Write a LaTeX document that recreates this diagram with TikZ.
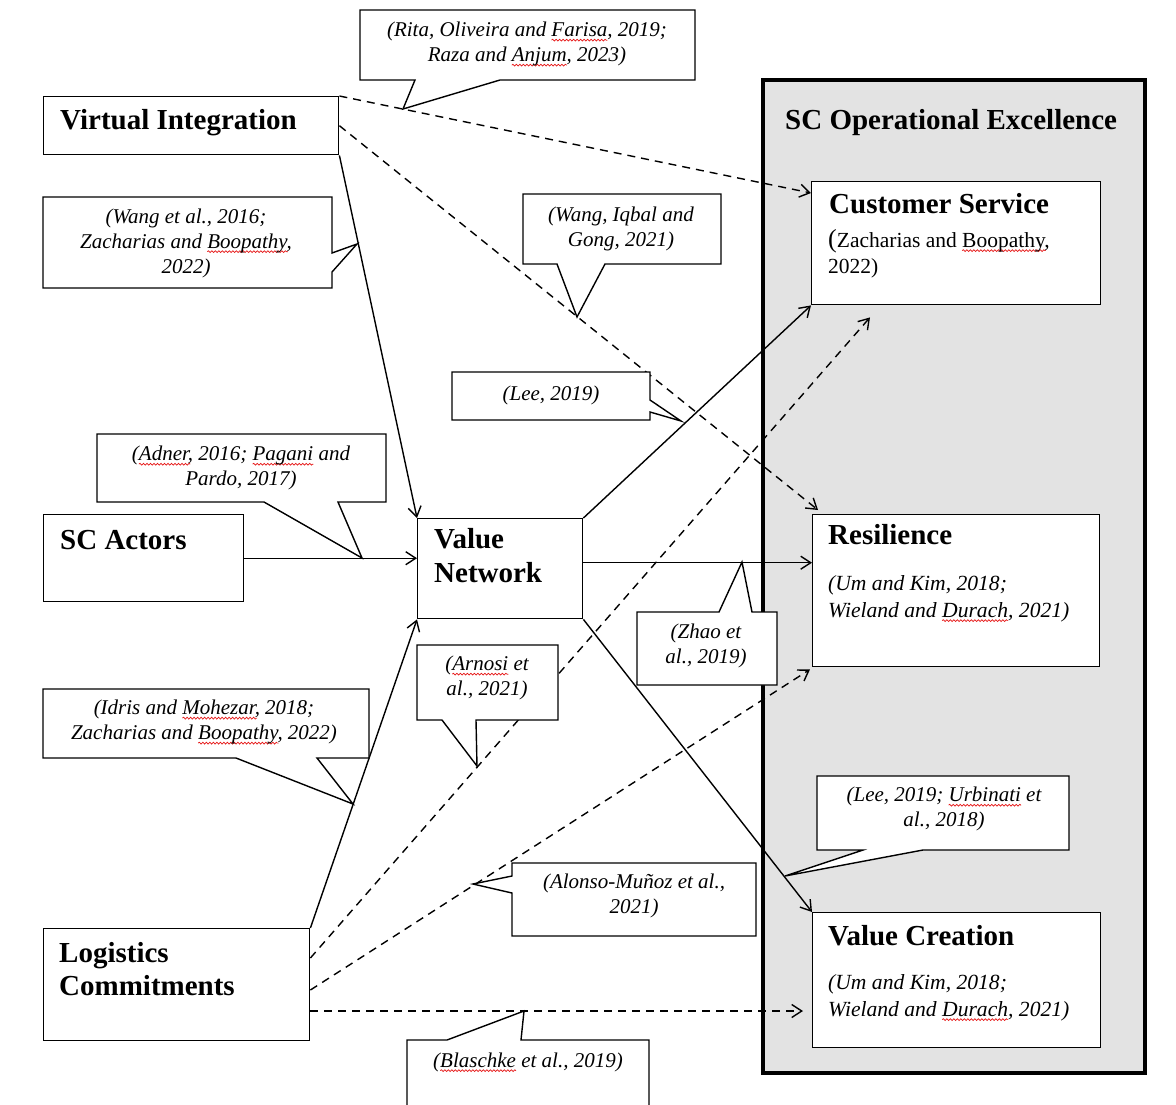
\documentclass[tikz,border=0pt]{standalone}
\usepackage{fontspec}
\setmainfont{Liberation Serif}
\usetikzlibrary{arrows.meta,calc,decorations.pathmorphing}

\definecolor{panelgrey}{RGB}{227,227,227}
\definecolor{squiggle}{RGB}{230,20,20}

% red wavy underline used under flagged words
\newlength\sqlen
\newcommand\sqw[1]{\settowidth\sqlen{#1}\rlap{\tikz[overlay]\draw[squiggle, line width=0.7pt, decorate, decoration={snake, amplitude=0.9pt, segment length=3.5pt}] (0pt,-3.6pt) -- (\sqlen,-3.6pt);}#1}

\begin{document}
\begin{tikzpicture}[x=1pt,y=-1pt,
  box/.style={draw=black, line width=1.4pt, fill=white, inner sep=0pt, anchor=north west},
  panelbox/.style={draw=black, line width=3.5pt, fill=panelgrey, inner sep=0pt, anchor=north west},
  ttl/.style={font=\fontsize{29}{34}\selectfont\bfseries, inner sep=0pt, anchor=base west},
  cite/.style={font=\fontsize{21}{25}\selectfont\itshape, inner sep=0pt, align=center},
  citeline/.style={font=\fontsize{21.6}{25}\selectfont\itshape, inner sep=0pt, anchor=base west},
  plainline/.style={font=\fontsize{21.5}{25}\selectfont, inner sep=0pt, anchor=base west},
  callout/.style={draw=black, line width=1.4pt, fill=white, line join=miter},
  conn/.style={line width=1.4pt, -{Straight Barb[length=10pt,width=13pt]}},
  dconn/.style={conn, dash pattern=on 8pt off 6pt},
]
\useasboundingbox (0,0) rectangle (1176,1104);

% ---------- outcome panel ----------
\node[panelbox, minimum width=382pt, minimum height=993pt] (panel) at (761,78) {};
\node[ttl] (paneltitle) at (785,129) {SC Operational Excellence};

% ---------- construct boxes ----------
\node[box, minimum width=295pt, minimum height=58pt]  (vi)  at (43,96)   {};
\node[box, minimum width=200pt, minimum height=87pt]  (act) at (43,514)  {};
\node[box, minimum width=165pt, minimum height=100pt] (vn)  at (417,518) {};
\node[box, minimum width=266pt, minimum height=112pt] (log) at (43,928)  {};
\node[box, minimum width=289pt, minimum height=123pt] (cs)  at (811,181) {};
\node[box, minimum width=287pt, minimum height=152pt] (res) at (812,514) {};
\node[box, minimum width=288pt, minimum height=135pt] (vc)  at (812,912) {};

% ---------- connectors ----------
% solid paths
\draw[conn] (vi.south east) -- (vn.north west);
\draw[conn] (act.east) -- (act.east -| vn.west);
\draw[conn] (log.north east) -- (vn.south west);
\draw[conn] (vn.north east) -- (cs.south west);
\coordinate (vnr) at ($(vn.east)+(0,-6)$);
\draw[conn] (vnr) -- (vnr -| res.west);
\draw[conn] (vn.south east) -- (vc.north west);
% dashed paths
\draw[dconn] (vi.north east) -- ($(cs.north west)+(0,12)$);
\draw[dconn] (vi.east) -- ($(res.north west)+(6,-4)$);
\draw[dconn] ($(log.north east)+(0,30)$) -- ($(cs.south west)+(59,12)$);
\draw[dconn] ($(log.north east)+(0,62)$) -- ($(res.south west)+(-2,2)$);
\coordinate (lgv) at ($(log.north east)+(0,83)$);
\draw[dconn, shorten >=9pt] (lgv) -- (lgv -| vc.west);

% ---------- citation callouts ----------
\draw[callout] (360,10) -- (695,10) -- (695,80) -- (500,80) -- (403,109) -- (415,80) -- (360,80) -- cycle;
\draw[callout] (43,197) -- (332,197) -- (332,253) -- (357,244) -- (332,272) -- (332,288) -- (43,288) -- cycle;
\draw[callout] (523,194) -- (721,194) -- (721,264) -- (605,264) -- (577,317) -- (557,264) -- (523,264) -- cycle;
\draw[callout] (452,372) -- (650,372) -- (650,400) -- (681,421) -- (650,412) -- (650,420) -- (452,420) -- cycle;
\draw[callout] (97,434) -- (386,434) -- (386,502) -- (338,502) -- (362,558) -- (264,502) -- (97,502) -- cycle;
\draw[callout] (637,612) -- (719,612) -- (742,562) -- (752,612) -- (777,612) -- (777,685) -- (637,685) -- cycle;
\draw[callout] (417,645) -- (558,645) -- (558,720) -- (476,720) -- (477,766) -- (442,720) -- (417,720) -- cycle;
\draw[callout] (43,689) -- (369,689) -- (369,758) -- (317,758) -- (353,804) -- (236,758) -- (43,758) -- cycle;
\draw[callout] (512,863) -- (756,863) -- (756,936) -- (512,936) -- (512,893) -- (473,884) -- (512,876) -- cycle;
\draw[callout] (817,776) -- (1069,776) -- (1069,850) -- (923,850) -- (785,876) -- (863,850) -- (817,850) -- cycle;
\draw[callout] (407,1110) -- (407,1040) -- (447,1040) -- (524,1011) -- (521,1040) -- (649,1040) -- (649,1110);

% ---------- texts ----------
\node[ttl] (vit)  at (60,129)  {Virtual Integration};
\node[ttl] (actt) at (60,549)  {SC Actors};
\node[ttl] (vnt1) at (434,548) {Value};
\node[ttl] (vnt2) at (434,582) {Network};
\node[ttl] (lgt1) at (59,962)  {Logistics};
\node[ttl] (lgt2) at (59,995)  {Commitments};
\node[ttl] (cst)  at (829,213) {Customer Service};
\node[ttl] (rest) at (828,544) {Resilience};
\node[ttl] (vct)  at (828,945) {Value Creation};

\node[plainline] (csc1) at (828,247) {{\fontsize{26}{26}\selectfont(}Zacharias and \sqw{Boopathy},};
\node[plainline] (csc2) at (828,273) {2022)};
\node[citeline] (resc1) at (828,590)  {(Um and Kim, 2018;};
\node[citeline] (resc2) at (828,617)  {Wieland and \sqw{Durach}, 2021)};
\node[citeline] (vcc1)  at (828,989)  {(Um and Kim, 2018;};
\node[citeline] (vcc2)  at (828,1016) {Wieland and \sqw{Durach}, 2021)};

\node[cite] (c1)  at (527,44)   {(Rita, Oliveira and \sqw{Farisa}, 2019;\\Raza and \sqw{Anjum}, 2023)};
\node[cite] (c2)  at (186,243)  {(Wang et al., 2016;\\Zacharias and \sqw{Boopathy},\\2022)};
\node[cite] (c3)  at (621,229)  {(Wang, Iqbal and\\Gong, 2021)};
\node[cite] (c4)  at (551,395)  {(Lee, 2019)};
\node[cite] (c5)  at (241,468)  {(\sqw{Adner}, 2016; \sqw{Pagani} and\\Pardo, 2017)};
\node[cite] (c6)  at (706,646)  {(Zhao et\\al., 2019)};
\node[cite] (c7)  at (487,678)  {(\sqw{Arnosi} et\\al., 2021)};
\node[cite] (c8)  at (204,722)  {(Idris and \sqw{Mohezar}, 2018;\\Zacharias and \sqw{Boopathy}, 2022)};
\node[cite] (c9)  at (634,896)  {(Alonso-Muñoz et al.,\\2021)};
\node[cite] (c10) at (944,809)  {(Lee, 2019; \sqw{Urbinati} et\\al., 2018)};
\node[cite] (c11) at (528,1062) {(\sqw{Blaschke} et al., 2019)};
\end{tikzpicture}
\end{document}
